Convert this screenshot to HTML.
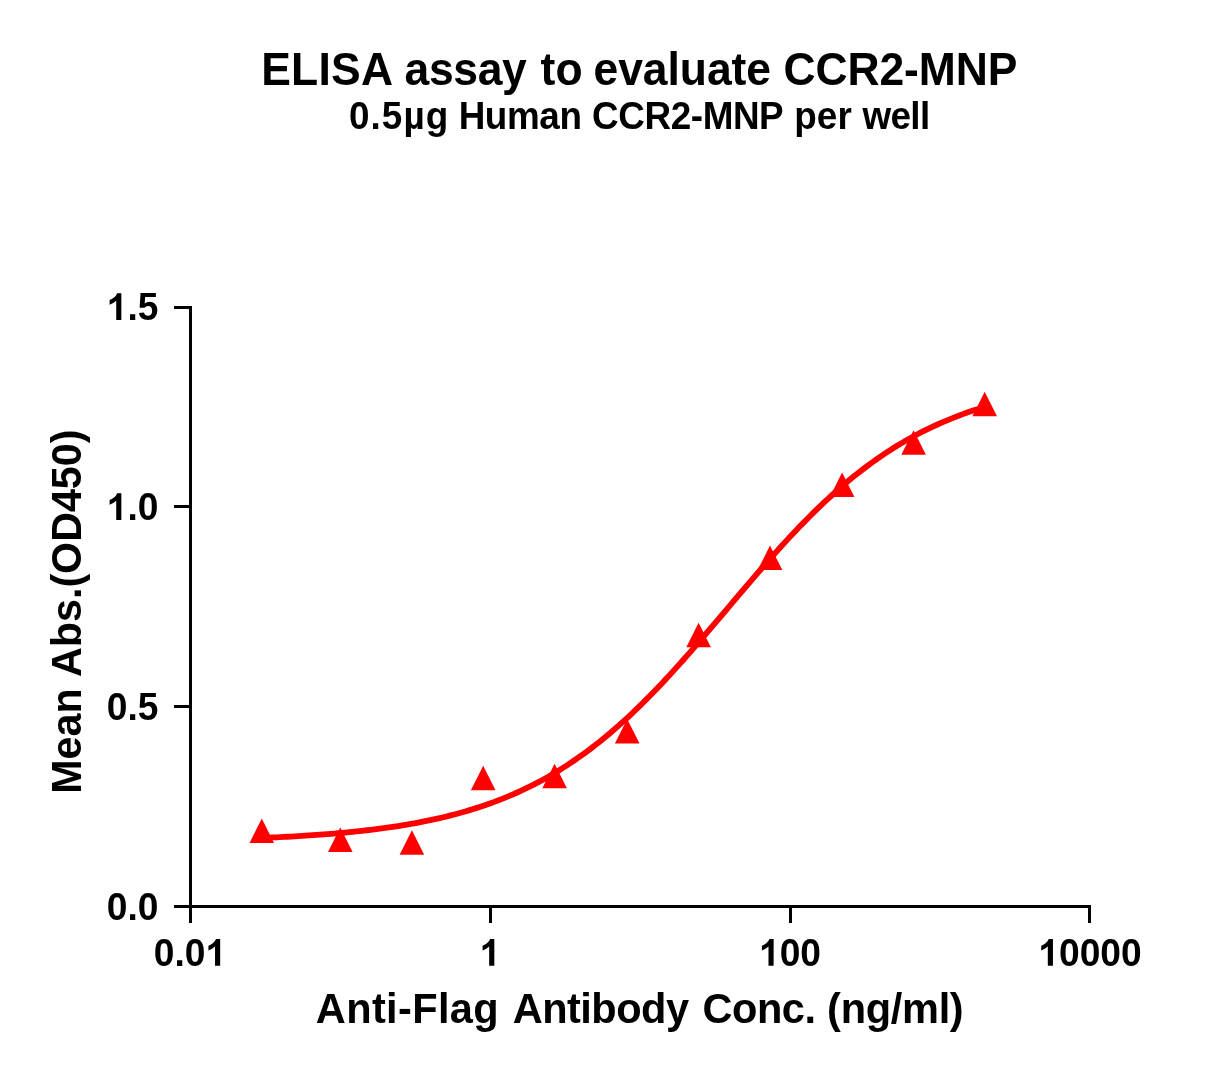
<!DOCTYPE html>
<html><head><meta charset="utf-8"><title>ELISA assay to evaluate CCR2-MNP</title>
<style>
html,body{margin:0;padding:0;background:#fff;}
body{width:1217px;height:1075px;overflow:hidden;}
svg{display:block;will-change:transform;}
text{font-family:"Liberation Sans",sans-serif;font-weight:bold;fill:#000;font-kerning:none;white-space:pre;}
</style></head><body>
<svg width="1217" height="1075" viewBox="0 0 1217 1075">
<rect width="1217" height="1075" fill="#fff"/>
<text transform="translate(261.13,85.00) scale(1,1.02)" font-size="44.45" letter-spacing="0.287">ELISA</text><text transform="translate(404.55,85.00) scale(1,1.02)" font-size="44.45" letter-spacing="-0.328">assay</text><text transform="translate(540.46,85.00) scale(1,1.02)" font-size="44.45" letter-spacing="0.125">to</text><text transform="translate(593.46,85.00) scale(1,1.02)" font-size="44.45" letter-spacing="-0.036">evaluate</text><text transform="translate(783.58,85.00) scale(1,1.02)" font-size="44.45" letter-spacing="-0.108">CCR2-MNP</text>
<text transform="translate(348.94,129.00) scale(1,1.04)" font-size="36.85" letter-spacing="1.089">0.5&#181;g</text><text transform="translate(458.63,129.00) scale(1,1.04)" font-size="36.85" letter-spacing="-0.385">Human</text><text transform="translate(592.09,129.00) scale(1,1.04)" font-size="36.85" letter-spacing="-0.402">CCR2-MNP</text><text transform="translate(794.17,129.00) scale(1,1.04)" font-size="36.85" letter-spacing="0.171">per</text><text transform="translate(862.41,129.00) scale(1,1.04)" font-size="36.85" letter-spacing="-0.611">well</text>
<g fill="#000">
<rect x="189" y="306" width="3" height="602"/>
<rect x="174" y="905" width="917" height="3"/>
<rect x="174" y="905.00" width="16" height="3"/><rect x="174" y="705.00" width="16" height="3"/><rect x="174" y="505.00" width="16" height="3"/><rect x="174" y="306.00" width="16" height="3"/>
<rect x="189.00" y="906" width="3" height="17"/><rect x="489.00" y="906" width="3" height="17"/><rect x="789.00" y="906" width="3" height="17"/><rect x="1088.00" y="906" width="3" height="17"/>
</g>
<text transform="translate(106.69,920.00) scale(1,1.0407)" font-size="37.2">0</text><text transform="translate(127.38,920.00) scale(1,1.0407)" font-size="37.2">.</text><text transform="translate(137.71,920.00) scale(1,1.0407)" font-size="37.2">0</text><text transform="translate(106.69,720.00) scale(1,1.0407)" font-size="37.2">0</text><text transform="translate(127.38,720.00) scale(1,1.0407)" font-size="37.2">.</text><text transform="translate(137.71,720.00) scale(1,1.0407)" font-size="37.2">5</text><path transform="translate(106.69,520.00) scale(37.2,-37.2)" d="M.394 0H.256V.517Q.181 .447 .079 .413V.538Q.133 .555 .196 .604Q.259 .653 .282 .719H.394Z"/><text transform="translate(127.38,520.00) scale(1,1.0407)" font-size="37.2">.</text><text transform="translate(137.71,520.00) scale(1,1.0407)" font-size="37.2">0</text><path transform="translate(106.69,320.00) scale(37.2,-37.2)" d="M.394 0H.256V.517Q.181 .447 .079 .413V.538Q.133 .555 .196 .604Q.259 .653 .282 .719H.394Z"/><text transform="translate(127.38,320.00) scale(1,1.0407)" font-size="37.2">.</text><text transform="translate(137.71,320.00) scale(1,1.0407)" font-size="37.2">5</text>
<text transform="translate(153.80,965.80) scale(1,1.0407)" font-size="37.2">0</text><text transform="translate(174.49,965.80) scale(1,1.0407)" font-size="37.2">.</text><text transform="translate(184.82,965.80) scale(1,1.0407)" font-size="37.2">0</text><path transform="translate(205.51,965.80) scale(37.2,-37.2)" d="M.394 0H.256V.517Q.181 .447 .079 .413V.538Q.133 .555 .196 .604Q.259 .653 .282 .719H.394Z"/><path transform="translate(479.66,965.80) scale(37.2,-37.2)" d="M.394 0H.256V.517Q.181 .447 .079 .413V.538Q.133 .555 .196 .604Q.259 .653 .282 .719H.394Z"/><path transform="translate(758.97,965.80) scale(37.2,-37.2)" d="M.394 0H.256V.517Q.181 .447 .079 .413V.538Q.133 .555 .196 .604Q.259 .653 .282 .719H.394Z"/><text transform="translate(779.66,965.80) scale(1,1.0407)" font-size="37.2">0</text><text transform="translate(800.34,965.80) scale(1,1.0407)" font-size="37.2">0</text><path transform="translate(1038.28,965.80) scale(37.2,-37.2)" d="M.394 0H.256V.517Q.181 .447 .079 .413V.538Q.133 .555 .196 .604Q.259 .653 .282 .719H.394Z"/><text transform="translate(1058.97,965.80) scale(1,1.0407)" font-size="37.2">0</text><text transform="translate(1079.66,965.80) scale(1,1.0407)" font-size="37.2">0</text><text transform="translate(1100.34,965.80) scale(1,1.0407)" font-size="37.2">0</text><text transform="translate(1121.03,965.80) scale(1,1.0407)" font-size="37.2">0</text>
<text transform="translate(315.87,1023.40) scale(1,1.03)" font-size="41.55" letter-spacing="0.35">Anti-Flag</text><text transform="translate(512.67,1023.40) scale(1,1.03)" font-size="41.55" letter-spacing="-0.508">Antibody</text><text transform="translate(702.50,1023.40) scale(1,1.03)" font-size="41.55" letter-spacing="-0.464">Conc.</text><text transform="translate(827.10,1023.40) scale(1,1.03)" font-size="41.55" letter-spacing="-0.3">(ng/ml)</text>
<text transform="translate(81.40,611.65) rotate(-90) scale(1,1.03)" text-anchor="middle" font-size="41.23">Mean Abs.(OD450)</text>
<path d="M261.80,837.94 L265.43,837.78 L269.07,837.63 L272.70,837.46 L276.33,837.29 L279.96,837.11 L283.60,836.93 L287.23,836.74 L290.86,836.54 L294.49,836.34 L298.13,836.12 L301.76,835.90 L305.39,835.67 L309.02,835.44 L312.66,835.19 L316.29,834.94 L319.92,834.68 L323.56,834.40 L327.19,834.12 L330.82,833.83 L334.45,833.52 L338.09,833.21 L341.72,832.88 L345.35,832.55 L348.98,832.20 L352.62,831.84 L356.25,831.46 L359.88,831.07 L363.51,830.67 L367.15,830.25 L370.78,829.82 L374.41,829.37 L378.05,828.91 L381.68,828.43 L385.31,827.94 L388.94,827.42 L392.58,826.89 L396.21,826.34 L399.84,825.77 L403.47,825.18 L407.11,824.57 L410.74,823.94 L414.37,823.29 L418.00,822.62 L421.64,821.92 L425.27,821.20 L428.90,820.45 L432.54,819.68 L436.17,818.88 L439.80,818.06 L443.43,817.20 L447.07,816.32 L450.70,815.41 L454.33,814.47 L457.96,813.50 L461.60,812.50 L465.23,811.46 L468.86,810.39 L472.49,809.28 L476.13,808.14 L479.76,806.97 L483.39,805.75 L487.03,804.50 L490.66,803.21 L494.29,801.88 L497.92,800.51 L501.56,799.09 L505.19,797.63 L508.82,796.13 L512.45,794.58 L516.09,792.99 L519.72,791.35 L523.35,789.66 L526.98,787.92 L530.62,786.13 L534.25,784.30 L537.88,782.41 L541.52,780.46 L545.15,778.47 L548.78,776.42 L552.41,774.31 L556.05,772.15 L559.68,769.94 L563.31,767.66 L566.94,765.33 L570.58,762.94 L574.21,760.49 L577.84,757.98 L581.47,755.42 L585.11,752.79 L588.74,750.10 L592.37,747.35 L596.01,744.54 L599.64,741.67 L603.27,738.73 L606.90,735.74 L610.54,732.69 L614.17,729.57 L617.80,726.40 L621.43,723.17 L625.07,719.87 L628.70,716.52 L632.33,713.11 L635.96,709.65 L639.60,706.13 L643.23,702.55 L646.86,698.92 L650.49,695.24 L654.13,691.51 L657.76,687.73 L661.39,683.90 L665.03,680.03 L668.66,676.11 L672.29,672.15 L675.92,668.15 L679.56,664.11 L683.19,660.04 L686.82,655.93 L690.45,651.79 L694.09,647.63 L697.72,643.44 L701.35,639.22 L704.98,634.98 L708.62,630.73 L712.25,626.46 L715.88,622.18 L719.52,617.89 L723.15,613.60 L726.78,609.30 L730.41,605.00 L734.05,600.70 L737.68,596.41 L741.31,592.12 L744.94,587.85 L748.58,583.59 L752.21,579.34 L755.84,575.12 L759.47,570.92 L763.11,566.74 L766.74,562.59 L770.37,558.47 L774.01,554.38 L777.64,550.33 L781.27,546.32 L784.90,542.34 L788.54,538.40 L792.17,534.51 L795.80,530.66 L799.43,526.86 L803.07,523.11 L806.70,519.41 L810.33,515.76 L813.96,512.16 L817.60,508.61 L821.23,505.13 L824.86,501.69 L828.50,498.32 L832.13,495.00 L835.76,491.74 L839.39,488.55 L843.03,485.41 L846.66,482.33 L850.29,479.31 L853.92,476.35 L857.56,473.46 L861.19,470.62 L864.82,467.84 L868.45,465.13 L872.09,462.48 L875.72,459.88 L879.35,457.35 L882.99,454.88 L886.62,452.46 L890.25,450.11 L893.88,447.81 L897.52,445.57 L901.15,443.38 L904.78,441.26 L908.41,439.18 L912.05,437.17 L915.68,435.20 L919.31,433.29 L922.94,431.43 L926.58,429.62 L930.21,427.87 L933.84,426.16 L937.48,424.50 L941.11,422.88 L944.74,421.32 L948.37,419.80 L952.01,418.32 L955.64,416.89 L959.27,415.50 L962.90,414.15 L966.54,412.84 L970.17,411.57 L973.80,410.34 L977.43,409.15 L981.07,407.99 L984.70,406.87" fill="none" stroke="#fe0000" stroke-width="5.8" stroke-linecap="butt" stroke-linejoin="round"/>
<g fill="#fe0000"><polygon points="261.80,818.40 249.50,842.90 274.10,842.90"/><polygon points="340.30,827.50 328.00,852.00 352.60,852.00"/><polygon points="411.90,830.30 399.60,854.80 424.20,854.80"/><polygon points="483.20,765.80 470.90,790.30 495.50,790.30"/><polygon points="554.60,763.70 542.30,788.20 566.90,788.20"/><polygon points="627.20,719.10 614.90,743.60 639.50,743.60"/><polygon points="698.60,622.70 686.30,647.20 710.90,647.20"/><polygon points="770.00,545.60 757.70,570.10 782.30,570.10"/><polygon points="842.10,472.40 829.80,496.90 854.40,496.90"/><polygon points="913.60,430.30 901.30,454.80 925.90,454.80"/><polygon points="984.70,391.80 972.40,416.30 997.00,416.30"/></g>
</svg>
</body></html>
